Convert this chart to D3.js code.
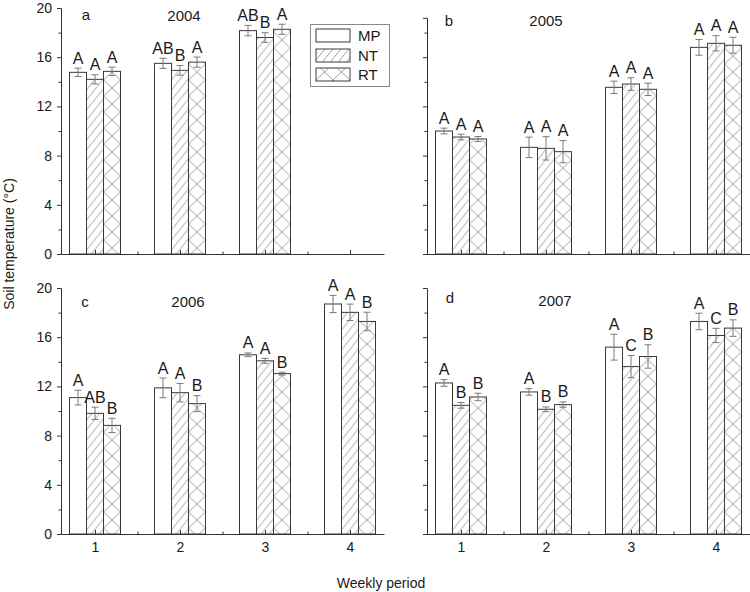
<!DOCTYPE html>
<html>
<head>
<meta charset="utf-8">
<script src="https://cdn.jsdelivr.net/npm/d3@7"></script>
<style>
  html, body { margin: 0; padding: 0; background: #fff; }
  svg { display: block; }
  text { font-family: Arial, "Liberation Sans", sans-serif; fill: #1a1a1a; }
</style>
</head>
<body>
<svg id="chart" width="750" height="592"></svg>
<script>
// ---------------- data ----------------
const weeks = [1, 2, 3, 4];
const weekLabels = ["1", "2", "3", "4"];
const series = ["MP", "NT", "RT"];
const years = ["2004", "2005", "2006", "2007"];
const panelLetters = ["a", "b", "c", "d"];
const yTicks = [0, 4, 8, 12, 16, 20];
const yMinorTicks = [2, 6, 10, 14, 18];
const yAxisMax = [20, 19.2, 20, 20];

// means per panel: rows = MP, NT, RT ; columns = weeks 1..4
const means2004 = [[14.77, 15.50, 18.16, null], [14.20, 14.93, 17.60, null], [14.85, 15.60, 18.27, null]];
const errs2004  = [[0.34, 0.41, 0.42, null], [0.37, 0.39, 0.39, null], [0.34, 0.41, 0.41, null]];
const lets2004  = [["A", "AB", "AB", ""], ["A", "B", "B", ""], ["A", "A", "A", ""]];

const means2005 = [[10.00, 8.67, 13.55, 16.80], [9.51, 8.59, 13.82, 17.13], [9.35, 8.32, 13.39, 16.97]];
const errs2005  = [[0.23, 0.83, 0.50, 0.64], [0.23, 0.95, 0.51, 0.62], [0.20, 0.90, 0.50, 0.65]];
const lets2005  = [["A", "A", "A", "A"], ["A", "A", "A", "A"], ["A", "A", "A", "A"]];

const means2006 = [[11.09, 11.88, 14.57, 18.70], [9.81, 11.49, 14.08, 18.02], [8.83, 10.60, 13.04, 17.28]];
const errs2006  = [[0.60, 0.80, 0.15, 0.70], [0.50, 0.75, 0.20, 0.67], [0.58, 0.65, 0.12, 0.75]];
const lets2006  = [["A", "A", "A", "A"], ["AB", "A", "A", "A"], ["B", "B", "B", "B"]];

const means2007 = [[12.28, 11.55, 15.19, 17.28], [10.46, 10.14, 13.61, 16.14], [11.14, 10.52, 14.43, 16.74]];
const errs2007  = [[0.27, 0.27, 1.05, 0.67], [0.23, 0.19, 0.90, 0.58], [0.30, 0.22, 0.95, 0.67]];
const lets2007  = [["A", "A", "A", "A"], ["B", "B", "C", "C"], ["B", "B", "B", "B"]];

const allMeans = [means2004, means2005, means2006, means2007];
const allErrs = [errs2004, errs2005, errs2006, errs2007];
const allLets = [lets2004, lets2005, lets2006, lets2007];

// ---------------- layout ----------------
const svg = d3.select("#chart");
const axisColor = "#333";
const pxPerUnit = 12.3;
const panels = [
  { x0: 61, x1: 384, bottom: 254, showY: true,  showX: false, letter: [86, 19.5], year: [184, 20.5] },
  { x0: 427, x1: 750, bottom: 254, showY: false, showX: false, letter: [449, 25.5], year: [546, 26] },
  { x0: 61, x1: 384, bottom: 534, showY: true,  showX: true,  letter: [85, 306.5], year: [188, 307] },
  { x0: 427, x1: 750, bottom: 534, showY: false, showX: true,  letter: [450, 302.5], year: [555, 306] }
];

// patterns
const defs = svg.append("defs");
defs.append("pattern")
  .attr("id", "patNT").attr("patternUnits", "userSpaceOnUse")
  .attr("width", 8).attr("height", 10)
  .append("path")
  .attr("d", "M0,10 L8,0 M-2,2.5 L2,-2.5 M6,12.5 L10,7.5")
  .attr("stroke", "#8a8a8a").attr("stroke-width", 0.8).attr("fill", "none");
defs.append("pattern")
  .attr("id", "patRT").attr("patternUnits", "userSpaceOnUse")
  .attr("width", 17).attr("height", 16)
  .append("path")
  .attr("d", "M0,0 L17,16 M17,0 L0,16")
  .attr("stroke", "#8a8a8a").attr("stroke-width", 0.8).attr("fill", "none");

const fills = ["#ffffff", "url(#patNT)", "url(#patRT)"];
const offsets = [-0.2, 0, 0.2];
const barUnits = 0.2;

panels.forEach((p, pi) => {
  const x = d3.scaleLinear().domain([0.6, 4.4]).range([p.x0, p.x1]);
  const yMax = yAxisMax[pi];
  const y = d3.scaleLinear().domain([0, yMax]).range([p.bottom, p.bottom - yMax * pxPerUnit]);
  const g = svg.append("g");
  const bw = x(1 + barUnits) - x(1);

  // bars
  series.forEach((s, si) => {
    weeks.forEach((w, wi) => {
      const v = allMeans[pi][si][wi];
      if (v == null) return;
      const cx = x(w + offsets[si]);
      const bg = g.append("g").attr("transform", `translate(${cx - bw / 2},0)`);
      bg.append("rect")
        .attr("x", 0).attr("y", y(v))
        .attr("width", bw).attr("height", y(0) - y(v))
        .attr("fill", "#fff");
      bg.append("rect")
        .attr("x", 0).attr("y", y(v))
        .attr("width", bw).attr("height", y(0) - y(v))
        .attr("fill", fills[si])
        .attr("stroke", "#3a3a3a").attr("stroke-width", 1);
    });
  });

  // error bars and letters
  series.forEach((s, si) => {
    weeks.forEach((w, wi) => {
      const v = allMeans[pi][si][wi];
      if (v == null) return;
      const e = allErrs[pi][si][wi];
      const cx = x(w + offsets[si]);
      const eg = g.append("g").attr("stroke", "#7a7a7a").attr("stroke-width", 1);
      eg.append("line").attr("x1", cx).attr("x2", cx).attr("y1", y(v - e)).attr("y2", y(v + e));
      eg.append("line").attr("x1", cx - 3.5).attr("x2", cx + 3.5).attr("y1", y(v - e)).attr("y2", y(v - e));
      eg.append("line").attr("x1", cx - 3.5).attr("x2", cx + 3.5).attr("y1", y(v + e)).attr("y2", y(v + e));
      const lab = allLets[pi][si][wi];
      if (lab) {
        g.append("text")
          .attr("x", cx).attr("y", y(v + e) - 4.5)
          .attr("text-anchor", "middle")
          .style("font-size", "16px")
          .text(lab);
      }
    });
  });

  // y axis (major + minor)
  const yAx = g.append("g").attr("transform", `translate(${p.x0},0)`)
    .call(d3.axisLeft(y).tickValues(yTicks.filter(t => t <= yMax))
      .tickSize(4).tickSizeOuter(4).tickPadding(5)
      .tickFormat(p.showY ? d3.format("d") : () => ""));
  yAx.selectAll("text").style("font-size", "14px").attr("fill", "#1a1a1a");
  const yMin = g.append("g").attr("transform", `translate(${p.x0},0)`)
    .call(d3.axisLeft(y).tickValues(yMinorTicks.filter(t => t <= yMax)).tickSize(2.5).tickFormat(() => ""));
  yMin.select(".domain").remove();

  // x axis (major + minor, inward ticks)
  const xAx = g.append("g").attr("transform", `translate(0,${p.bottom})`)
    .call(d3.axisBottom(x).tickValues(weeks).tickSize(-4).tickSizeOuter(0).tickPadding(8)
      .tickFormat((d, i) => p.showX ? weekLabels[i] : ""));
  xAx.selectAll("text").style("font-size", "14px").attr("fill", "#1a1a1a");
  const xMin = g.append("g").attr("transform", `translate(0,${p.bottom})`)
    .call(d3.axisBottom(x).tickValues([1.5, 2.5, 3.5]).tickSize(-2.5).tickFormat(() => ""));
  xMin.select(".domain").remove();

  g.selectAll(".domain, .tick line").attr("stroke", axisColor).attr("stroke-width", 1);

  // panel letter and year
  g.append("text").attr("x", p.letter[0]).attr("y", p.letter[1])
    .attr("text-anchor", "middle").style("font-size", "15px").text(panelLetters[pi]);
  g.append("text").attr("x", p.year[0]).attr("y", p.year[1])
    .attr("text-anchor", "middle").style("font-size", "15px").text(years[pi]);
});

// legend
const leg = svg.append("g");
leg.append("rect").attr("x", 310.5).attr("y", 24.5).attr("width", 79).attr("height", 62)
  .attr("fill", "#fff").attr("stroke", "#888").attr("stroke-width", 1);
series.forEach((s, si) => {
  const ry = [29, 49, 68][si];
  const sg = leg.append("g").attr("transform", `translate(316,0)`);
  sg.append("rect").attr("x", 0).attr("y", ry).attr("width", 34).attr("height", 13).attr("fill", "#fff");
  sg.append("rect").attr("x", 0).attr("y", ry).attr("width", 34).attr("height", 13)
    .attr("fill", fills[si]).attr("stroke", "#3a3a3a").attr("stroke-width", 1);
  leg.append("text").attr("x", 358).attr("y", ry + 12).style("font-size", "15px").text(s);
});

// axis titles
svg.append("text")
  .attr("transform", "translate(14,244) rotate(-90)")
  .attr("text-anchor", "middle").style("font-size", "14px")
  .text("Soil temperature (°C)");
svg.append("text")
  .attr("x", 381).attr("y", 588)
  .attr("text-anchor", "middle").style("font-size", "14px")
  .text("Weekly period");
</script>
</body>
</html>
